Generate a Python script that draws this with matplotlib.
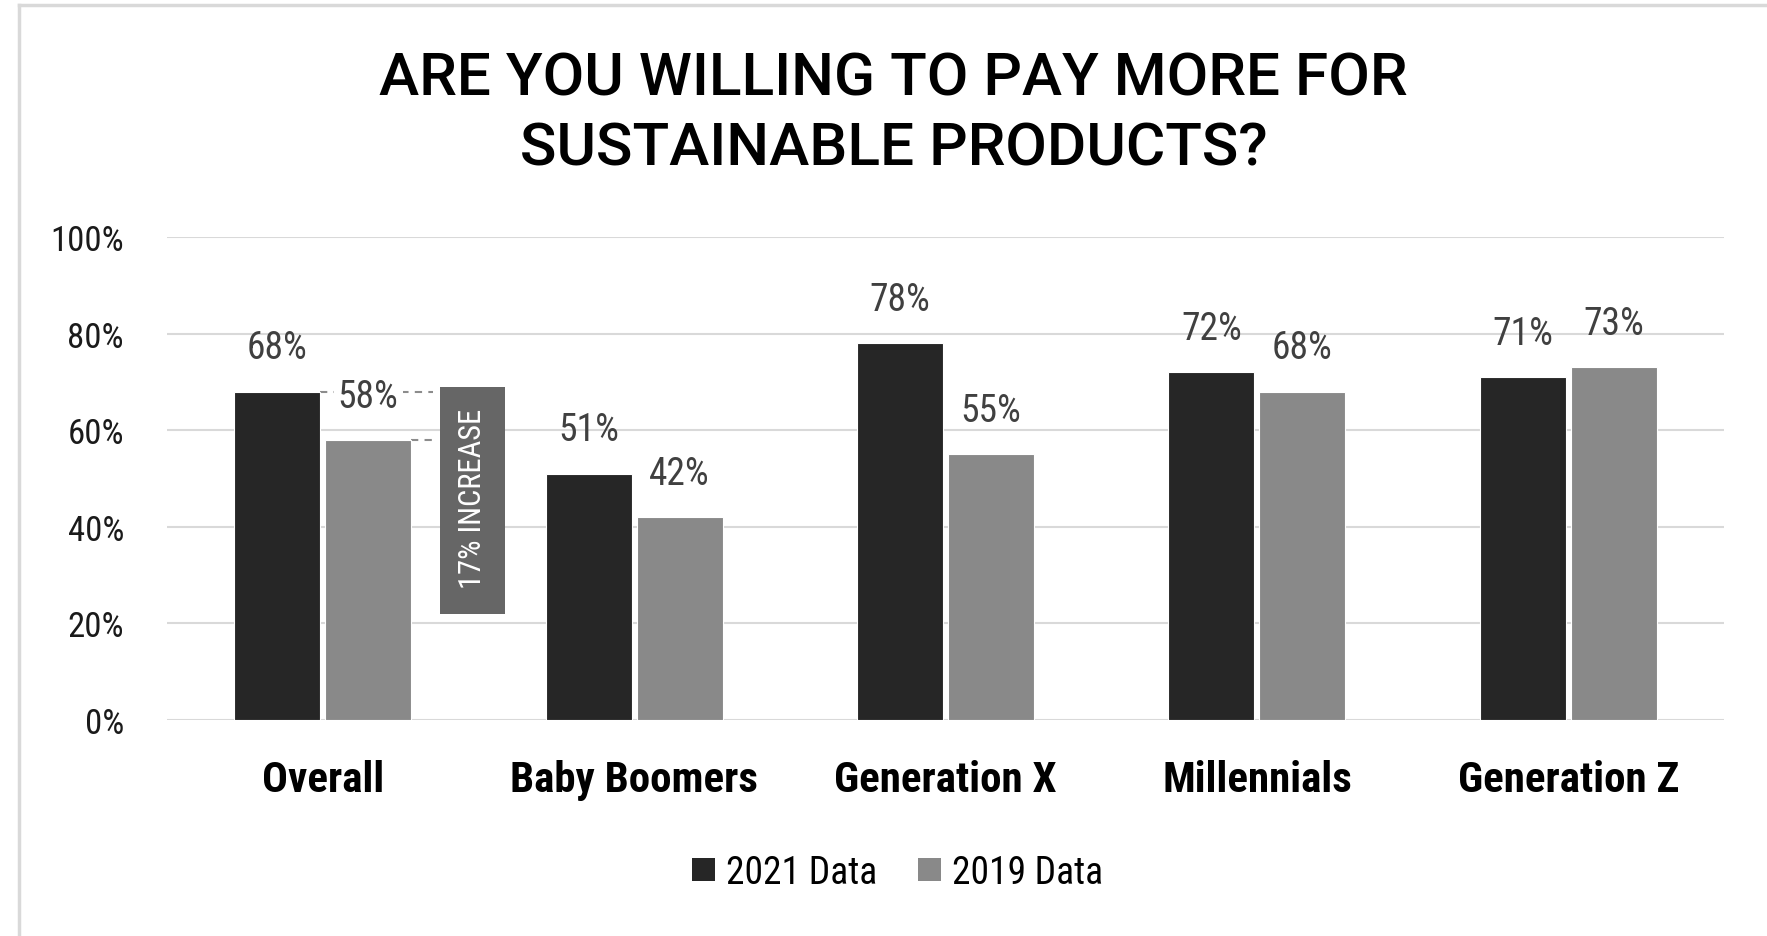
import matplotlib.pyplot as plt
from matplotlib import font_manager
from matplotlib.lines import Line2D
from matplotlib.patches import Patch, Rectangle
import numpy as np

categories = ['Overall', 'Baby Boomers', 'Generation X', 'Millennials', 'Generation Z']
data_2021 = [68, 51, 78, 72, 71]
data_2019 = [58, 42, 55, 68, 73]
y_ticks = [0, 20, 40, 60, 80, 100]
callout = '17% INCREASE'

# narrow face for labels, if one is around
installed = {f.name for f in font_manager.fontManager.ttflist}
narrow = next((f for f in ['Roboto Condensed', 'Liberation Sans Narrow'] if f in installed), 'Roboto')
plt.rcParams['font.family'] = [narrow, 'DejaVu Sans']

dark = '#262626'
light = '#898989'
grid_col = '#d9d9d9'

fig = plt.figure(figsize=(17.67, 9.37), dpi=100)
ax = fig.add_axes([0.0945, 0.2305, 0.8812, 0.5155])

x = np.arange(len(categories))
w = 0.276
off = 0.146
ax.bar(x - off, data_2021, w, color=dark, edgecolor='white', linewidth=0.8, zorder=3)
ax.bar(x + off, data_2019, w, color=light, edgecolor='white', linewidth=0.8, zorder=3)

for xi, v in zip(x - off, data_2021):
    ax.annotate(f'{v}%', (xi, v), xytext=(0, 31.5), textcoords='offset points',
                ha='center', va='center', fontsize=27, color='#404040', zorder=5)
for i, (xi, v) in enumerate(zip(x + off, data_2019)):
    box = dict(facecolor='white', edgecolor='none', pad=3) if i == 0 else None
    ax.annotate(f'{v}%', (xi, v), xytext=(0, 31.5), textcoords='offset points',
                ha='center', va='center', fontsize=27, color='#404040', zorder=5, bbox=box)

# dashed guides from the Overall bars to the callout
ax.plot([-off + w / 2, 0.354], [data_2021[0]] * 2, ls=(0, (3.5, 3)), color='#8c8c8c', lw=1.5, zorder=2)
ax.plot([off + w / 2, 0.354], [data_2019[0]] * 2, ls=(0, (3.5, 3)), color='#8c8c8c', lw=1.5, zorder=2)

ax.add_patch(Rectangle((0.377, 21.9), 0.209, 47.1, facecolor='#666666', edgecolor='none', zorder=3))
ax.text(0.4815, 46.0, callout, rotation=90, ha='center', va='center', color='white',
        fontsize=22, zorder=4)

ax.set_xlim(-0.5, 4.5)
ax.set_ylim(0, 100)
ax.set_yticks(y_ticks)
ax.set_yticklabels([f'{t}%' for t in y_ticks], fontsize=25, color='#1a1a1a')
ax.set_xticks(x)
ax.set_xticklabels(categories, fontsize=31, fontweight='bold', color='black')
ax.tick_params(axis='y', length=0, pad=31)
ax.tick_params(axis='x', length=0, pad=28)
ax.grid(axis='y', color=grid_col, lw=1.5, zorder=0)
for s in ax.spines.values():
    s.set_visible(False)

fig.text(0.5056, 0.8784, 'ARE YOU WILLING TO PAY MORE FOR\nSUSTAINABLE PRODUCTS?',
         ha='center', va='center', fontsize=43.5, family=['Roboto', 'DejaVu Sans'],
         weight='medium', linespacing=1.28)

handles = [Patch(facecolor=dark, label='2021 Data'), Patch(facecolor=light, label='2019 Data')]
fig.legend(handles=handles, loc='center', bbox_to_anchor=(0.508, 0.068), ncol=2, frameon=False,
           fontsize=27, handlelength=0.6, handleheight=0.6, handletextpad=0.3, columnspacing=1.1)

# thin frame along the left and top edges
fx = 19 / 1767
fy = 1 - 6 / 937
fig.add_artist(Line2D([fx, fx], [0, fy], transform=fig.transFigure, color=grid_col, lw=2.5))
fig.add_artist(Line2D([fx, 1], [fy, fy], transform=fig.transFigure, color=grid_col, lw=2.5))

fig.savefig('out.png', dpi=100)
